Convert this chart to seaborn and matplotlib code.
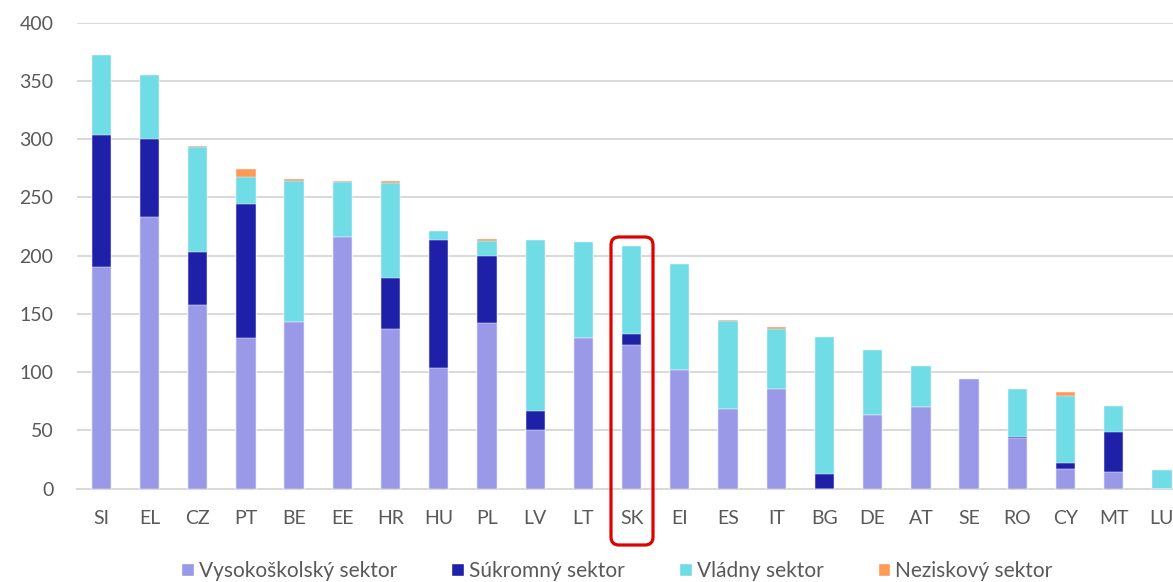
import numpy as np
import pandas as pd
import seaborn as sns
import matplotlib.pyplot as plt
from matplotlib.patches import Patch, FancyBboxPatch
from matplotlib.transforms import IdentityTransform

# Data
countries = ['SI', 'EL', 'CZ', 'PT', 'BE', 'EE', 'HR', 'HU', 'PL', 'LV', 'LT', 'SK',
             'EI', 'ES', 'IT', 'BG', 'DE', 'AT', 'SE', 'RO', 'CY', 'MT', 'LU']
higher_ed = [190, 233, 158, 129, 143, 216, 137, 103.5, 142, 50, 129.5, 123,
             102, 68.6, 86, 0, 63.5, 70, 94, 43.5, 17, 14.3, 0]
business = [114, 67, 45, 115, 0, 0, 44, 110, 58, 16.6, 0, 10,
            0, 0, 0, 13, 0, 0, 0, 1, 5, 34, 0]
government = [68, 55, 90, 23.5, 121, 47, 81, 7.5, 13, 146.7, 82.3, 75.7,
              90.7, 75.5, 51, 117, 55.7, 35, 0, 40.7, 57.5, 23, 16.3]
nonprofit = [0, 0, 1.2, 6.5, 2, 1.5, 2.5, 0, 1, 0, 0, 0,
             0, 0.5, 1.7, 0, 0, 0, 0, 0.6, 3.2, 0, 0]

labels = ['Vysokoškolský sektor', 'Súkromný sektor', 'Vládny sektor', 'Neziskový sektor']
colors = ['#9999E8', '#1F20A8', '#70DCE6', '#FF9A55']

df = pd.DataFrame({'country': countries, 'H': higher_ed, 'P': business,
                   'G': government, 'N': nonprofit})
df['HP'] = df['H'] + df['P']
df['HPG'] = df['HP'] + df['G']
df['ALL'] = df['HPG'] + df['N']

sns.set_style('white')
plt.rcParams['font.family'] = ['Lato', 'DejaVu Sans']

fig = plt.figure(figsize=(11.73, 5.82), dpi=100)
ax = fig.add_axes([77 / 1173, 1 - 488.7 / 582, 1 - 77 / 1173, (488.7 - 22.7) / 582])

# stacked bars drawn from the top layer down
for col, c in zip(['ALL', 'HPG', 'HP', 'H'], colors[::-1]):
    sns.barplot(data=df, x='country', y=col, order=countries, color=c, width=0.4,
                edgecolor='#F4F4FF', linewidth=0.35, saturation=1, ax=ax, zorder=3)

ax.set_xlim(-0.504, 22.23)
ax.set_ylim(0, 400)
ax.set_yticks(range(0, 401, 50))
ax.yaxis.grid(True, color='#D9D9D9', linewidth=1.4, zorder=0)
ax.set_axisbelow(True)
for s in ['top', 'right', 'left']:
    ax.spines[s].set_visible(False)
ax.spines['bottom'].set_color('#D9D9D9')
ax.spines['bottom'].set_linewidth(1.4)
ax.set_xlabel('')
ax.set_ylabel('')
ax.tick_params(axis='y', length=0, pad=17, labelsize=14, labelcolor='#595959')
ax.tick_params(axis='x', length=0, pad=15, labelsize=14, labelcolor='#595959')

# red highlight around SK
box = FancyBboxPatch((611, 582 - 545), 42, 308, boxstyle='round,pad=0,rounding_size=8',
                     transform=IdentityTransform(), fill=False, edgecolor='#E00000',
                     linewidth=2.3, clip_on=False, zorder=5)
fig.patches.append(box)

handles = [Patch(facecolor=c, label=l) for c, l in zip(colors, labels)]
fig.legend(handles=handles, loc='lower center', bbox_to_anchor=(0.526, -0.03), ncol=4,
           frameon=False, fontsize=15, handlelength=0.6, handleheight=0.6,
           handletextpad=0.25, columnspacing=2.6, labelcolor='#595959')

fig.savefig('out.png', dpi=100)
